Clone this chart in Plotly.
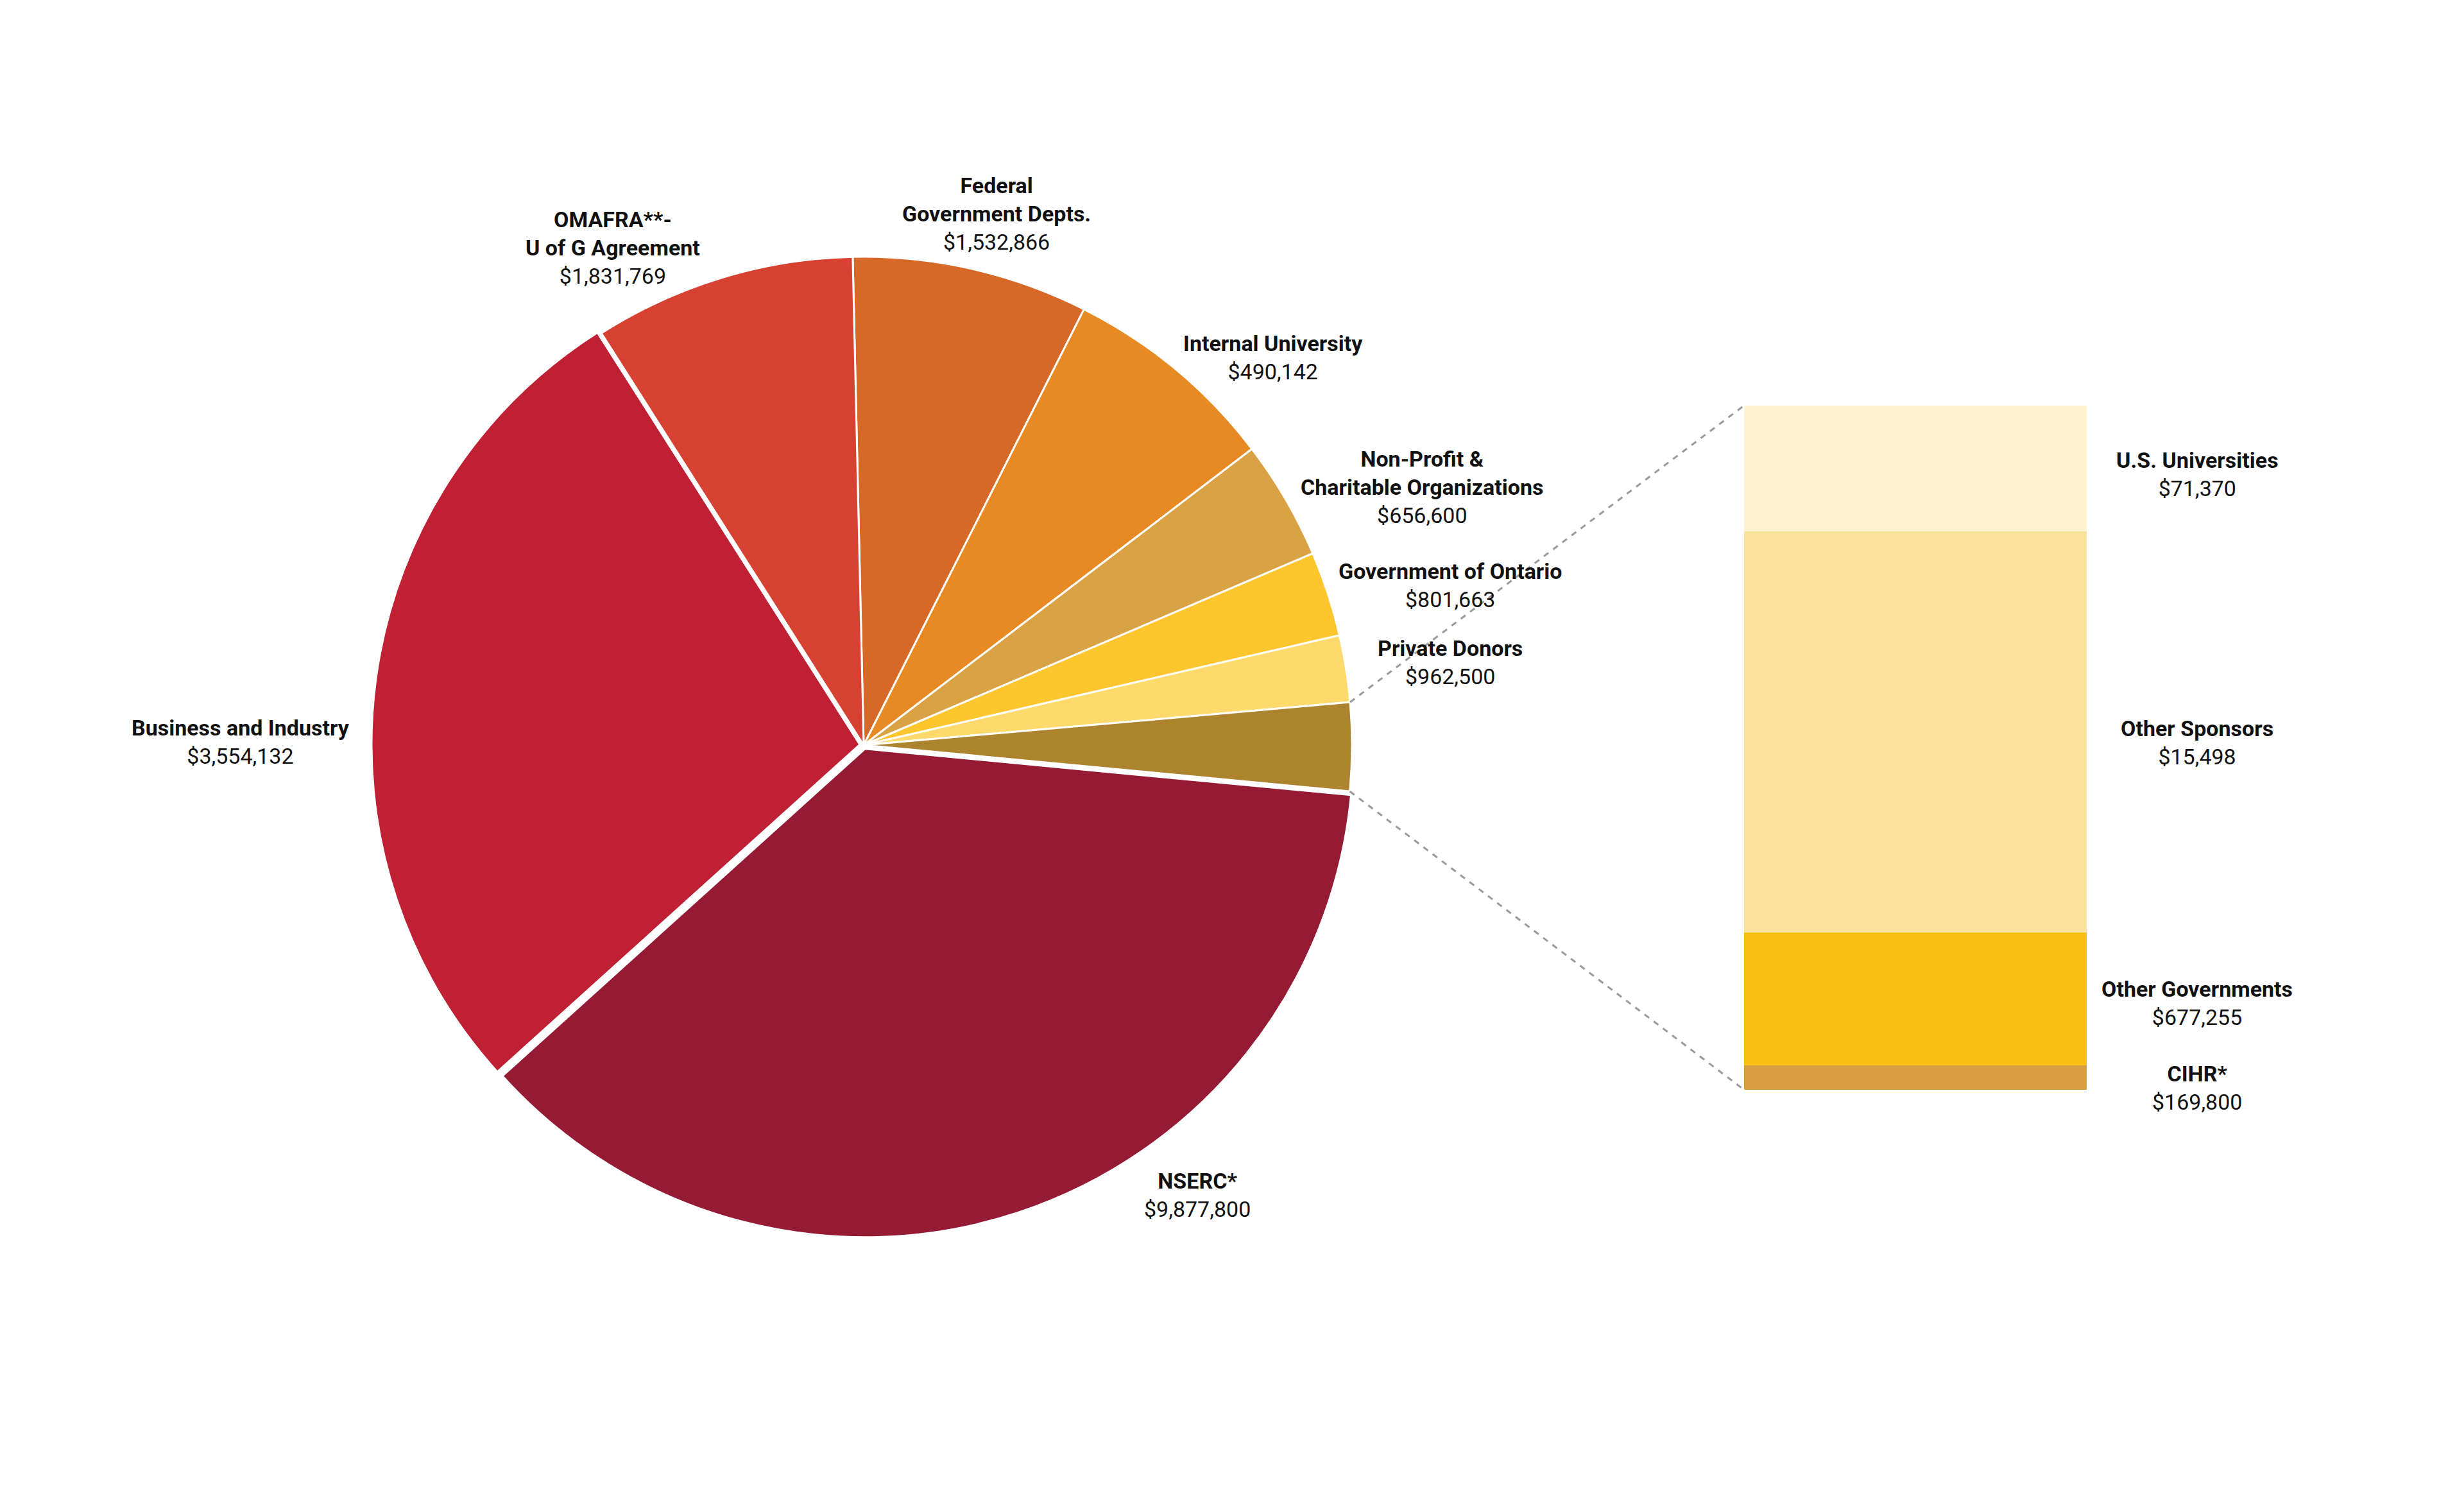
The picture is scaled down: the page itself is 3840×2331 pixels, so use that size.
import numpy as np
import plotly.graph_objects as go

# pie slices, clockwise from 12 o'clock (share of circle, %)
pie_names = ["Federal<br>Government Depts.", "Internal University",
             "Non-Profit &<br>Charitable Organizations", "Government of Ontario",
             "Private Donors", "Other", "NSERC*", "Business and Industry",
             "OMAFRA**-<br>U of G Agreement"]
pie_amounts = ["$1,532,866", "$490,142", "$656,600", "$801,663", "$962,500",
               "", "$9,877,800", "$3,554,132", "$1,831,769"]
pie_share = [7.81, 7.18, 3.95, 2.81, 2.21, 2.91, 36.81, 27.66, 8.67]
pie_colors = ["#D66828", "#E78A23", "#D8A245", "#FDC62E", "#FDDA6B",
              "#AC842E", "#951A34", "#BF2033", "#D64132"]
pie_pull = [0, 0, 0, 0, 0, 0, 0.008, 0.008, 0]
other_idx = 5

# breakdown bar of the "Other" slice, bottom to top
bar_names = ["CIHR*", "Other Governments", "Other Sponsors", "U.S. Universities"]
bar_amounts = ["$169,800", "$677,255", "$15,498", "$71,370"]
bar_share = [3.6, 19.4, 58.6, 18.4]
bar_colors = ["#D9A043", "#FBC014", "#FAE39A", "#FEF2CF"]
bar_label_shift = [-16, -7, -17, -9]  # px nudge below segment middle

# label centres for the pie, in screen px
pie_label_px = [(1553, 333), (1984, 557), (2216, 759), (2260, 912), (2260, 1032),
                None, (1866, 1862), (375, 1156), (955, 386)]

W, H = 3840, 2331
OFF = 8  # page margin around the plot div
cx, cy, R = 1346, 1161, 761   # pie centre / radius in screen px
rot = -1.29
half = R * (1 + max(pie_pull))


def px_x(x):
    return (x - OFF) / W


def px_y(y):
    return 1 - (y - OFF) / H


bar_x0, bar_x1 = px_x(2718), px_x(3252)
bar_y0, bar_y1 = px_y(1698), px_y(632)
bar_label_x = px_x(3424)

font = "Roboto"
fsize = 34

fig = go.Figure()

fig.add_trace(go.Pie(
    labels=[n.replace("<br>", " ") for n in pie_names],
    values=pie_share,
    sort=False,
    direction="clockwise",
    rotation=rot,
    pull=pie_pull,
    marker=dict(colors=pie_colors, line=dict(color="white", width=3)),
    textinfo="none",
    hoverinfo="skip",
    showlegend=False,
    domain=dict(x=[px_x(cx - half), px_x(cx + half)],
                y=[px_y(cy + half), px_y(cy - half)]),
))

for name, val, col in zip(bar_names, bar_share, bar_colors):
    fig.add_trace(go.Bar(
        x=[0], y=[val], width=1, name=name,
        marker=dict(color=col, line=dict(width=0)),
        hoverinfo="skip", showlegend=False,
    ))

annotations = []
for name, amt, pos in zip(pie_names, pie_amounts, pie_label_px):
    if pos is None:
        continue
    annotations.append(dict(
        x=px_x(pos[0]), y=px_y(pos[1]), xref="paper", yref="paper",
        text="<b>%s</b><br>%s" % (name, amt), showarrow=False,
        font=dict(family=font, size=fsize, color="#111111"),
        xanchor="center", yanchor="middle", align="center",
    ))

cum = np.cumsum(bar_share)
mids = cum - np.array(bar_share) / 2
for name, amt, m, sh in zip(bar_names, bar_amounts, mids, bar_label_shift):
    annotations.append(dict(
        x=bar_label_x, y=m, xref="paper", yref="y", yshift=sh,
        text="<b>%s</b><br>%s" % (name, amt), showarrow=False,
        font=dict(family=font, size=fsize, color="#111111"),
        xanchor="center", yanchor="middle", align="center",
    ))

# dashed connectors from the "Other" slice to the bar
tot = sum(pie_share)
a0 = np.radians(rot + 360 * sum(pie_share[:other_idx]) / tot)
a1 = np.radians(rot + 360 * sum(pie_share[:other_idx + 1]) / tot)
shapes = []
for ang, by in [(a0, bar_y1), (a1, bar_y0)]:
    shapes.append(dict(type="line", xref="paper", yref="paper",
                       x0=px_x(cx + R * np.sin(ang)), y0=px_y(cy - R * np.cos(ang)),
                       x1=bar_x0, y1=by,
                       line=dict(color="#9A9A9A", width=3, dash="dash")))

fig.update_layout(
    width=W, height=H,
    margin=dict(l=0, r=0, t=0, b=0),
    paper_bgcolor="white", plot_bgcolor="white",
    barmode="stack", bargap=0,
    xaxis=dict(domain=[bar_x0, bar_x1], range=[-0.5, 0.5], visible=False, fixedrange=True),
    yaxis=dict(domain=[bar_y0, bar_y1], range=[0, sum(bar_share)], visible=False, fixedrange=True),
    annotations=annotations,
    shapes=shapes,
)

fig.write_html("out.html")
